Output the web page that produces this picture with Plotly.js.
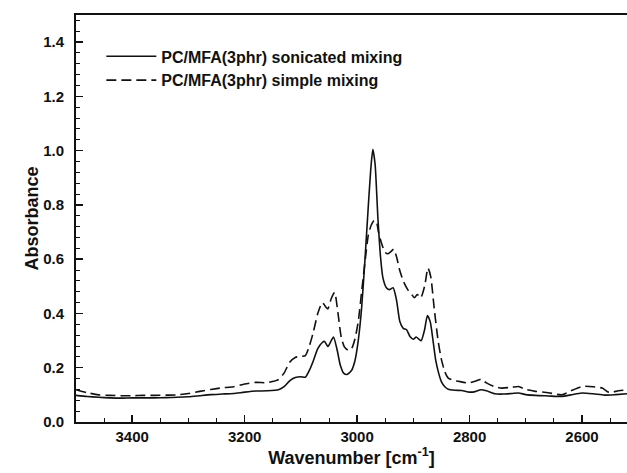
<!DOCTYPE html>
<html>
<head>
<meta charset="utf-8">
<script src="https://cdn.plot.ly/plotly-3.0.1.min.js"></script>
<style>html,body{margin:0;padding:0;background:#fff;}#chart{width:627px;height:473px;}</style>
</head>
<body>
<div id="chart"></div>
<script>
const sonicatedX = [3500,3480,3460,3440,3420,3400,3380,3360,3340,3320,3300,3280,3260,3240,3220,3200,3180,3160,3140,3130,3120,3110,3100,3092,3085,3078,3070,3062,3058,3052,3046,3042,3036,3030,3024,3018,3010,3004,2998,2992,2986,2980,2975,2972,2968,2963,2958,2954,2948,2942,2936,2930,2924,2918,2912,2906,2900,2895,2890,2886,2880,2875,2870,2865,2860,2855,2850,2844,2838,2826,2814,2800,2790,2780,2770,2755,2740,2725,2713,2700,2683,2660,2636,2620,2600,2580,2560,2540,2520];
const sonicatedY = [0.098,0.094,0.091,0.089,0.088,0.089,0.089,0.089,0.090,0.091,0.093,0.097,0.101,0.103,0.105,0.110,0.114,0.115,0.119,0.130,0.152,0.164,0.167,0.165,0.190,0.225,0.270,0.293,0.297,0.278,0.300,0.313,0.270,0.210,0.180,0.175,0.190,0.225,0.300,0.420,0.600,0.800,0.950,1.005,0.950,0.750,0.600,0.530,0.495,0.488,0.495,0.450,0.370,0.345,0.340,0.315,0.305,0.313,0.305,0.300,0.340,0.392,0.370,0.300,0.225,0.180,0.148,0.130,0.121,0.117,0.116,0.110,0.112,0.119,0.115,0.104,0.103,0.105,0.107,0.101,0.098,0.096,0.094,0.100,0.107,0.104,0.099,0.101,0.104];
const simpleX = [3500,3480,3460,3440,3420,3400,3380,3360,3340,3320,3300,3280,3260,3240,3220,3200,3180,3160,3140,3130,3120,3110,3100,3092,3085,3078,3070,3062,3056,3052,3046,3040,3034,3028,3022,3016,3010,3004,2998,2992,2986,2980,2975,2970,2966,2962,2956,2950,2945,2940,2935,2930,2925,2918,2910,2903,2898,2893,2887,2880,2874,2869,2863,2856,2850,2844,2838,2828,2820,2802,2790,2779,2770,2755,2743,2725,2713,2700,2683,2660,2636,2620,2600,2580,2564,2552,2535,2517];
const simpleY = [0.119,0.108,0.100,0.098,0.097,0.097,0.098,0.098,0.099,0.100,0.105,0.113,0.120,0.126,0.130,0.140,0.146,0.145,0.156,0.180,0.220,0.238,0.242,0.245,0.280,0.330,0.400,0.440,0.425,0.417,0.455,0.477,0.400,0.310,0.275,0.265,0.270,0.305,0.370,0.480,0.590,0.690,0.725,0.742,0.740,0.700,0.655,0.625,0.620,0.628,0.637,0.610,0.565,0.520,0.488,0.470,0.458,0.470,0.457,0.500,0.567,0.535,0.420,0.300,0.230,0.185,0.162,0.153,0.150,0.144,0.150,0.158,0.144,0.130,0.125,0.128,0.131,0.120,0.113,0.108,0.100,0.115,0.131,0.130,0.125,0.109,0.115,0.119];
const seriesNames = ['PC/MFA(3phr) sonicated mixing', 'PC/MFA(3phr) simple mixing'];
const xTickVals = [3400, 3200, 3000, 2800, 2600];
const yTickVals = [0.0, 0.2, 0.4, 0.6, 0.8, 1.0, 1.2, 1.4];

const fontFam = 'Liberation Sans, Arial, sans-serif';
const data = [
  {x: sonicatedX, y: sonicatedY, name: seriesNames[0], mode: 'lines', type: 'scatter',
   line: {color: '#111', width: 1.6, shape: 'spline', smoothing: 0.6}},
  {x: simpleX, y: simpleY, name: seriesNames[1], mode: 'lines', type: 'scatter',
   line: {color: '#111', width: 1.6, dash: '10px,5px', shape: 'spline', smoothing: 0.6}}
];
const layout = {
  width: 627, height: 473,
  margin: {l: 76, r: 0, t: 15, b: 51},
  paper_bgcolor: '#fff', plot_bgcolor: '#fff',
  font: {family: fontFam, color: '#111'},
  showlegend: true,
  legend: {x: 0.046, y: 0.94, xanchor: 'left', yanchor: 'top', bgcolor: 'rgba(0,0,0,0)',
    itemwidth: 50,
    font: {family: fontFam, size: 16, weight: 'bold', color: '#111'}, tracegroupgap: 0},
  xaxis: {
    range: [3500, 2520], tickvals: xTickVals, ticktext: xTickVals.map(String),
    ticks: 'inside', ticklen: 7, tickwidth: 1.5, tickcolor: '#111',
    minor: {dtick: 50, ticks: 'inside', ticklen: 4, tickcolor: '#111', tickwidth: 1},
    showline: true, linecolor: '#111', linewidth: 2, mirror: true,
    showgrid: false, zeroline: false,
    tickfont: {family: fontFam, size: 15, weight: 'bold', color: '#111'},
    title: {text: 'Wavenumber [cm<sup>-1</sup>]', font: {family: fontFam, size: 18, weight: 'bold', color: '#111'}, standoff: 4}
  },
  yaxis: {
    range: [0, 1.5], tickvals: yTickVals, ticktext: yTickVals.map(v => v.toFixed(1)),
    ticks: 'inside', ticklen: 7, tickwidth: 1.5, tickcolor: '#111',
    ticklabelstandoff: 7,
    minor: {dtick: 0.04, tick0: 0, ticks: 'inside', ticklen: 4, tickcolor: '#111', tickwidth: 1},
    showline: true, linecolor: '#111', linewidth: 2,
    showgrid: false, zeroline: false,
    tickfont: {family: fontFam, size: 15, weight: 'bold', color: '#111'},
    title: {text: 'Absorbance', font: {family: fontFam, size: 18, weight: 'bold', color: '#111'}, standoff: 0}
  }
};
Plotly.newPlot('chart', data, layout, {displayModeBar: false, staticPlot: true});
</script>
</body>
</html>
